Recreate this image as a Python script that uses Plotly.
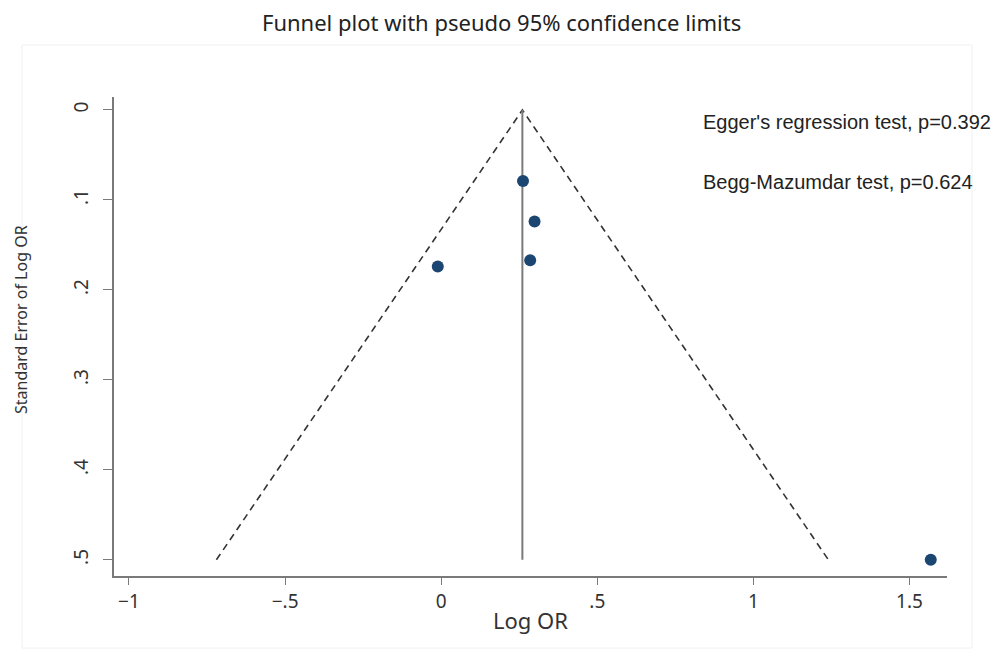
import plotly.graph_objects as go

# Study estimates
log_or = [0.262, 0.299, 0.285, -0.011, 1.568]
se_log_or = [0.079, 0.124, 0.167, 0.174, 0.500]

# Pooled estimate and funnel extent
pooled = 0.26
se_max = 0.5
z95 = 1.96

x_ticks = [-1, -0.5, 0, 0.5, 1, 1.5]
x_tick_text = ["\u22121", "\u2212.5", "0", ".5", "1", "1.5"]
y_ticks = [0, 0.1, 0.2, 0.3, 0.4, 0.5]
y_tick_text = ["0", ".1", ".2", ".3", ".4", ".5"]

title_text = "Funnel plot with pseudo 95% confidence limits"
x_title = "Log OR"
y_title = "Standard Error of Log OR"
egger_text = "Egger's regression test, p=0.392"
begg_text = "Begg-Mazumdar test, p=0.624"

fig = go.Figure()

# Pseudo 95% confidence limits
fig.add_trace(go.Scatter(
    x=[pooled - z95 * se_max, pooled, pooled + z95 * se_max],
    y=[se_max, 0, se_max],
    mode="lines",
    line=dict(color="#333333", width=1.6, dash="7px,5px"),
    hoverinfo="skip",
    showlegend=False,
))

# Pooled effect line
fig.add_trace(go.Scatter(
    x=[pooled, pooled],
    y=[0, se_max],
    mode="lines",
    line=dict(color="#7a7a7a", width=2),
    hoverinfo="skip",
    showlegend=False,
))

# Studies
fig.add_trace(go.Scatter(
    x=log_or,
    y=se_log_or,
    mode="markers",
    marker=dict(color="#1c4672", size=12),
    showlegend=False,
))

W, H = 1001, 654
L, R, T, B = 114, 54, 97, 78
pw, ph = W - L - R, H - T - B


def px_to_paper_x(px):
    return (px - L) / pw


def px_to_paper_y(py):
    return 1 - (py - T) / ph


tick_font = dict(family="Noto Sans, Open Sans, sans-serif", size=19, color="#333333")

fig.update_layout(
    width=W,
    height=H,
    margin=dict(l=L, r=R, t=T, b=B),
    paper_bgcolor="white",
    plot_bgcolor="white",
    font=dict(family="Noto Sans, sans-serif", color="#333333"),
    xaxis=dict(
        range=[-1.048, 1.62],
        tickvals=x_ticks,
        ticktext=x_tick_text,
        showgrid=False,
        zeroline=False,
        showline=True,
        linecolor="#7a7a7a",
        linewidth=1.5,
        ticks="outside",
        ticklen=7,
        tickcolor="#7a7a7a",
        tickfont=tick_font,
    ),
    yaxis=dict(
        range=[0.518, -0.0144],
        tickvals=y_ticks,
        ticktext=y_tick_text,
        tickangle=-90,
        showgrid=False,
        zeroline=False,
        showline=True,
        linecolor="#7a7a7a",
        linewidth=1.5,
        ticks="outside",
        ticklen=9,
        tickcolor="#7a7a7a",
        tickfont=tick_font,
        ticklabelstandoff=8,
    ),
    shapes=[
        # faint outer frame around the graph region
        dict(
            type="rect", xref="paper", yref="paper",
            x0=px_to_paper_x(22), x1=px_to_paper_x(972),
            y0=px_to_paper_y(648), y1=px_to_paper_y(45),
            line=dict(color="#f0f0f0", width=1),
            layer="below",
        ),
    ],
    annotations=[
        dict(
            text=title_text, xref="paper", yref="paper",
            x=px_to_paper_x(501), y=px_to_paper_y(22),
            xanchor="center", yanchor="middle", showarrow=False,
            font=dict(family="Noto Sans, sans-serif", size=22, color="#222222"),
        ),
        dict(
            text=x_title, xref="paper", yref="paper",
            x=px_to_paper_x(530), y=px_to_paper_y(620),
            xanchor="center", yanchor="middle", showarrow=False,
            font=dict(family="Noto Sans, sans-serif", size=22, color="#333333"),
        ),
        dict(
            text=y_title, xref="paper", yref="paper",
            x=px_to_paper_x(21), y=px_to_paper_y(320),
            xanchor="center", yanchor="middle", showarrow=False, textangle=-90,
            font=dict(family="Noto Sans, sans-serif", size=16, color="#333333"),
        ),
        dict(
            text=egger_text, xref="paper", yref="paper",
            x=px_to_paper_x(701), y=px_to_paper_y(122),
            xanchor="left", yanchor="middle", showarrow=False,
            font=dict(family="Liberation Sans, Arial, sans-serif", size=20, color="#222222"),
        ),
        dict(
            text=begg_text, xref="paper", yref="paper",
            x=px_to_paper_x(701), y=px_to_paper_y(182),
            xanchor="left", yanchor="middle", showarrow=False,
            font=dict(family="Liberation Sans, Arial, sans-serif", size=20, color="#222222"),
        ),
    ],
)

fig.write_html("out.html")
